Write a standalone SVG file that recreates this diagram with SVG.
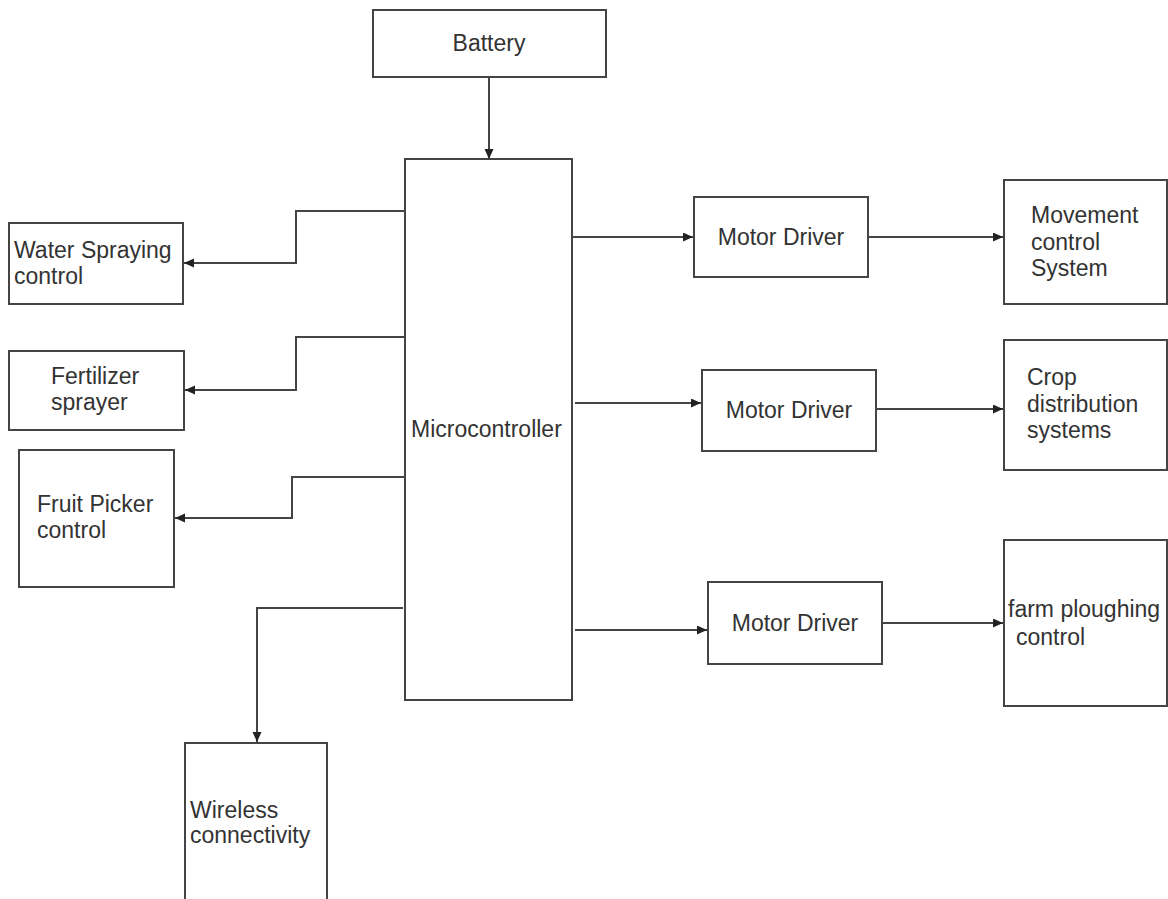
<svg xmlns="http://www.w3.org/2000/svg" width="1168" height="899" viewBox="0 0 1168 899">
<style>
.box{fill:#fff;stroke:#444;stroke-width:2}
.lbl{font-family:"Liberation Sans",Arial,sans-serif;font-size:23px;fill:#333}
.c{text-anchor:middle}
.wire{fill:none;stroke:#444;stroke-width:2}
</style>
<defs>
<marker id="ah" markerUnits="userSpaceOnUse" markerWidth="11" markerHeight="10" refX="10" refY="4.5" orient="auto">
<path d="M0,0 L10,4.5 L0,9 z" fill="#222"/>
</marker>
</defs>
<rect width="1168" height="899" fill="#fff"/>
<g id="connectors">
<line class="wire" x1="489" y1="77" x2="489" y2="159" marker-end="url(#ah)"/>
<polyline class="wire" points="410,211 296,211 296,263 184,263" marker-end="url(#ah)"/>
<polyline class="wire" points="410,337 296,337 296,390 185,390" marker-end="url(#ah)"/>
<polyline class="wire" points="410,477 292,477 292,518 175,518" marker-end="url(#ah)"/>
<polyline class="wire" points="403,608 257,608 257,742" marker-end="url(#ah)"/>
<line class="wire" x1="568" y1="237" x2="693" y2="237" marker-end="url(#ah)"/>
<line class="wire" x1="868" y1="237" x2="1003" y2="237" marker-end="url(#ah)"/>
<line class="wire" x1="575" y1="403" x2="701" y2="403" marker-end="url(#ah)"/>
<line class="wire" x1="876" y1="409" x2="1003" y2="409" marker-end="url(#ah)"/>
<line class="wire" x1="575" y1="630" x2="707" y2="630" marker-end="url(#ah)"/>
<line class="wire" x1="882" y1="623" x2="1003" y2="623" marker-end="url(#ah)"/>
</g>
<g id="battery">
<rect class="box" x="373" y="10" width="233" height="67"/>
<text class="lbl c" x="489" y="51">Battery</text>
</g>
<g id="microcontroller">
<rect class="box" x="405" y="159" width="167" height="541"/>
<text class="lbl" x="411" y="437">Microcontroller</text>
</g>
<g id="water">
<rect class="box" x="9" y="223" width="174" height="81"/>
<text class="lbl" x="14" y="258">Water Spraying</text>
<text class="lbl" x="14" y="284">control</text>
</g>
<g id="fertilizer">
<rect class="box" x="9" y="351" width="175" height="79"/>
<text class="lbl" x="51" y="384">Fertilizer</text>
<text class="lbl" x="51" y="410">sprayer</text>
</g>
<g id="fruit">
<rect class="box" x="19" y="450" width="155" height="137"/>
<text class="lbl" x="37" y="512">Fruit Picker</text>
<text class="lbl" x="37" y="538">control</text>
</g>
<g id="wireless">
<rect class="box" x="185" y="743" width="142" height="170"/>
<text class="lbl" x="190" y="818">Wireless</text>
<text class="lbl" x="190" y="843">connectivity</text>
</g>
<g id="md1">
<rect class="box" x="694" y="197" width="174" height="80"/>
<text class="lbl c" x="781" y="245">Motor Driver</text>
</g>
<g id="md2">
<rect class="box" x="702" y="370" width="174" height="81"/>
<text class="lbl c" x="789" y="418">Motor Driver</text>
</g>
<g id="md3">
<rect class="box" x="708" y="582" width="174" height="82"/>
<text class="lbl c" x="795" y="631">Motor Driver</text>
</g>
<g id="movement">
<rect class="box" x="1004" y="180" width="163" height="124"/>
<text class="lbl" x="1031" y="223">Movement</text>
<text class="lbl" x="1031" y="250">control</text>
<text class="lbl" x="1031" y="276">System</text>
</g>
<g id="crop">
<rect class="box" x="1004" y="340" width="163" height="130"/>
<text class="lbl" x="1027" y="385">Crop</text>
<text class="lbl" x="1027" y="412">distribution</text>
<text class="lbl" x="1027" y="438">systems</text>
</g>
<g id="farm">
<rect class="box" x="1004" y="540" width="163" height="166"/>
<text class="lbl" x="1008" y="617">farm ploughing</text>
<text class="lbl" x="1016" y="645">control</text>
</g>
</svg>
